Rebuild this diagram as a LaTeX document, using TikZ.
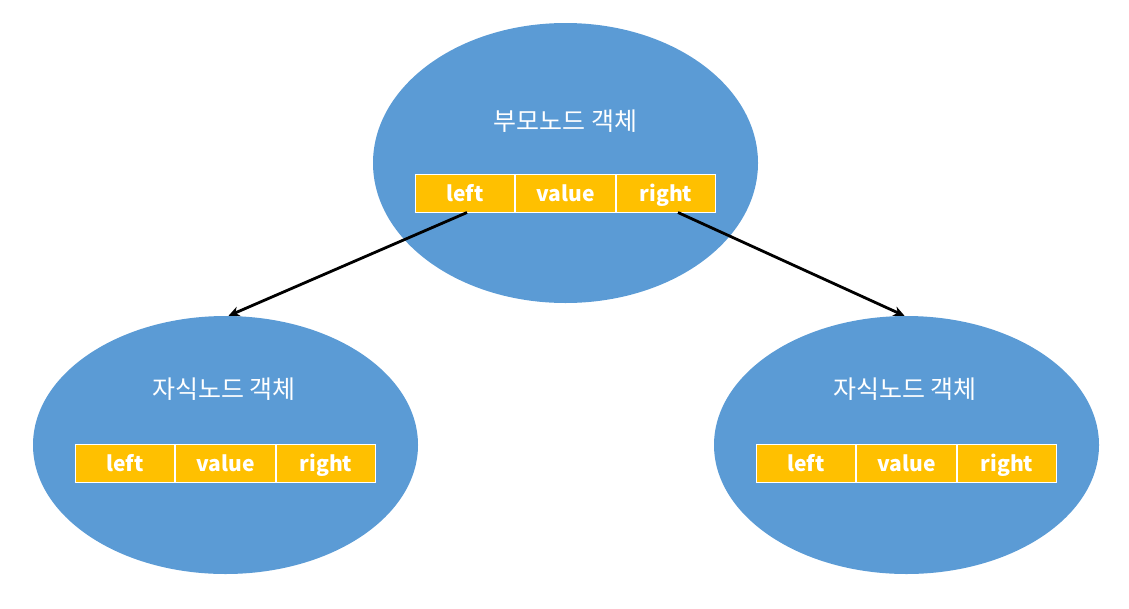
\documentclass[tikz,border=0pt]{standalone}
\usepackage{fontspec}
\setmainfont{Noto Sans CJK KR}
\usetikzlibrary{shapes.geometric, positioning, arrows.meta}
\definecolor{objblue}{HTML}{5B9BD5}
\definecolor{fieldgold}{HTML}{FFC000}
\tikzset{
	obj/.style={ellipse, fill=objblue, inner sep=0pt, minimum width=385pt},
	cell/.style={rectangle, fill=fieldgold, draw=white, line width=1pt, minimum width=99.5pt, minimum height=38pt, inner sep=0pt, text height=16pt, text depth=0pt, text=white, font=\fontsize{21}{21}\selectfont\bfseries},
	title/.style={text=white, font=\fontsize{25}{25}\selectfont},
	link/.style={-{Stealth[length=11pt, width=10pt]}, line width=2.8pt, black}
}
\begin{document}
\begin{tikzpicture}[x=1pt, y=-1pt]
	\useasboundingbox (0, 0) rectangle (1129, 608);
	% parent object
	\node[obj, minimum height=280pt] (parent) at (565.5, 163) {};
	\node[title] (ptitle) at (565.5, 121) {부모노드 객체};
	\node[cell] (pV) at (565.5, 193) {value};
	\node[cell, left=0pt of pV] (pL) {left};
	\node[cell, right=0pt of pV] (pR) {right};
	% child objects
	\node[obj, minimum height=258pt] (lchild) at (225.5, 445) {};
	\node[title] (ltitle) at (224, 389) {자식노드 객체};
	\node[cell] (lV) at (225.5, 463) {value};
	\node[cell, left=0pt of lV] (lL) {left};
	\node[cell, right=0pt of lV] (lR) {right};
	\node[obj, minimum height=258pt] (rchild) at (906.5, 445) {};
	\node[title] (rtitle) at (905, 389) {자식노드 객체};
	\node[cell] (rV) at (906.5, 463) {value};
	\node[cell, left=0pt of rV] (rL) {left};
	\node[cell, right=0pt of rV] (rR) {right};
	% links
	\draw[link] ([xshift=2pt]pL.south) -- ([xshift=3pt]lchild.north);
	\draw[link] ([xshift=12pt]pR.south) -- ([xshift=-2pt]rchild.north);
\end{tikzpicture}
\end{document}
